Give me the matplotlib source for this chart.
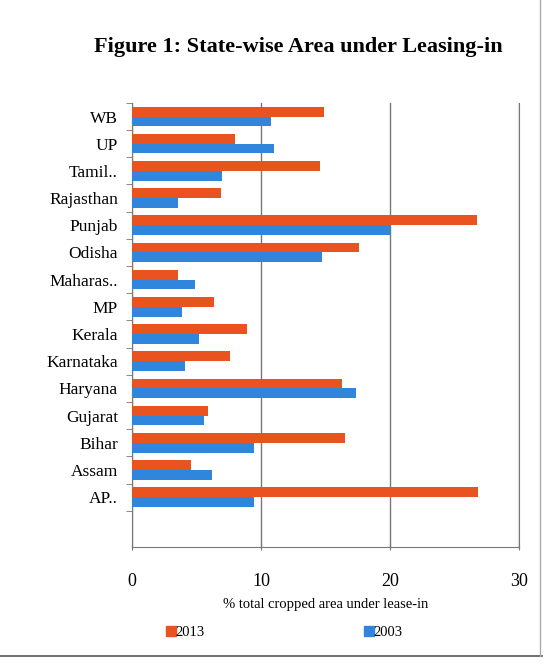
import numpy as np
import matplotlib.pyplot as plt
from matplotlib.lines import Line2D

# states from bottom to top (as drawn)
states = ["AP..", "Assam", "Bihar", "Gujarat", "Haryana", "Karnataka", "Kerala",
          "MP", "Maharas..", "Odisha", "Punjab", "Rajasthan", "Tamil..", "UP", "WB"]
area_2013 = [26.8, 4.6, 16.5, 5.9, 16.3, 7.6, 8.9, 6.4, 3.6, 17.6, 26.7, 6.9, 14.6, 8.0, 14.9]
area_2003 = [9.5, 6.2, 9.5, 5.6, 17.4, 4.1, 5.2, 3.9, 4.9, 14.7, 20.1, 3.6, 7.0, 11.0, 10.8]
xticks = [0, 10, 20, 30]

c2013 = "#e8531f"
c2003 = "#2f86dc"
serif = "Liberation Serif"

fig = plt.figure(figsize=(5.47, 6.64), dpi=100)
ax = fig.add_axes([0.241, 0.176, 0.708, 0.669])

y = np.arange(len(states))
h = 0.36
ax.barh(y + h / 2, area_2013, height=h, color=c2013, zorder=3)
ax.barh(y - h / 2, area_2003, height=h, color=c2003, zorder=3)

ax.set_xlim(0, 30)
ax.set_ylim(-1.84, 14.5)
ax.set_xticks(xticks)
ax.set_xticklabels([str(t) for t in xticks], fontfamily=serif, fontsize=13)
ax.tick_params(axis="x", length=5, direction="inout", pad=16, color="#777777")
ax.set_yticks(y)
ax.set_yticklabels(states, fontfamily=serif, fontsize=12.5)
ax.tick_params(axis="y", length=0, pad=10)
ax.set_yticks(np.arange(-0.5, 15, 1), minor=True)
ax.tick_params(axis="y", which="minor", length=4, color="#777777")

ax.grid(axis="x", color="#777777", linewidth=1, zorder=0)
ax.spines["top"].set_visible(False)
for s in ["left", "bottom", "right"]:
    ax.spines[s].set_color("#777777")

ax.set_xlabel("% total cropped area under lease-in", fontfamily=serif,
              fontsize=10.5, labelpad=6)

fig.text(0.545, 0.929, "Figure 1: State-wise Area under Leasing-in",
         ha="center", va="center", fontfamily=serif, fontsize=16,
         fontweight="bold")

handles = [Line2D([], [], marker="s", linestyle="none", color=c2013, markersize=7),
           Line2D([], [], marker="s", linestyle="none", color=c2003, markersize=7)]
leg = fig.legend(handles, ["2013", "2003"], loc="center", bbox_to_anchor=(0.52, 0.047),
                 ncol=2, frameon=False, handlelength=0.6, handletextpad=0.0,
                 columnspacing=11, prop={"family": serif, "size": 10.5})

# page border from the scan
fig.add_artist(Line2D([0.0, 0.99], [0.012, 0.012], color="#555555", linewidth=1.2))
fig.add_artist(Line2D([0.988, 0.988], [0.012, 1.0], color="#aaaaaa", linewidth=1))

fig.savefig("out.png", dpi=100)
